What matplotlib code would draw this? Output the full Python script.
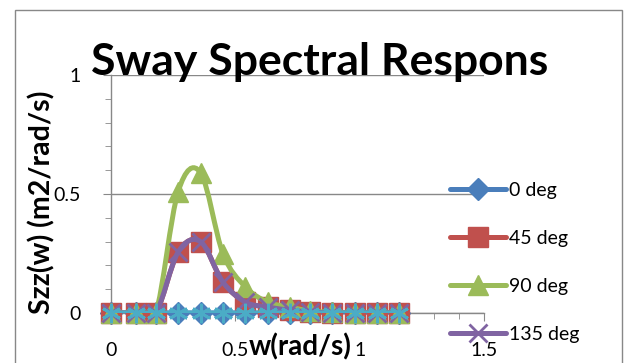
import matplotlib
matplotlib.use("Agg")
import matplotlib.pyplot as plt
import matplotlib.patches as patches
from matplotlib.path import Path
from matplotlib.ticker import MultipleLocator
import numpy as np

# data
w = [0.0, 0.1, 0.18, 0.27, 0.36, 0.45, 0.54, 0.63, 0.72, 0.80, 0.89, 0.98, 1.07, 1.16]
s_0 = [0, 0, 0, 0, 0, 0, 0, 0, 0, 0, 0, 0, 0, 0]
s_45 = [0, 0, 0, 0.256, 0.30, 0.13, 0.046, 0.025, 0.012, 0.005, 0, 0, 0, 0]
s_90 = [0, 0, 0, 0.51, 0.59, 0.25, 0.11, 0.046, 0.025, 0.008, 0.003, 0, 0, 0]
s_135 = [0, 0, 0, 0.256, 0.30, 0.13, 0.046, 0.025, 0.012, 0.005, 0, 0, 0, 0]
s_180 = [0, 0, 0, 0, 0, 0, 0, 0, 0, 0, 0, 0, 0, 0]
# the fifth legend entry falls below the picture's edge, so only four are listed
labels = ['0 deg', '45 deg', '90 deg', '135 deg']

FONT = 'Lato'
plt.rcParams['font.family'] = [FONT, 'DejaVu Sans']


def smooth_path(x, y):
    """Excel style smoothed line as a bezier path through the points"""
    pts = np.column_stack([x, y]).astype(float)
    n = len(pts)
    verts = [pts[0]]
    codes = [Path.MOVETO]
    for i in range(n - 1):
        p0 = pts[max(i - 1, 0)]
        p1 = pts[i]
        p2 = pts[i + 1]
        p3 = pts[min(i + 2, n - 1)]
        c1 = p1 + (p2 - p0) / 6.0
        c2 = p2 - (p3 - p1) / 6.0
        verts += [c1, c2, p2]
        codes += [Path.CURVE4] * 3
    return Path(verts, codes)


fig = plt.figure(figsize=(6.27, 3.63), dpi=100)
ax = fig.add_axes([111 / 627, 50 / 363, 373 / 627, 238 / 363])

series = [
    (s_0, '#4A7EBB', 'D', 11),
    (s_45, '#C0504D', 's', 14),
    (s_90, '#9BBB59', '^', 14),
    (s_135, '#8064A2', 'x', 13),
    (s_180, '#4BACC6', (6, 2, 0), 14),
]

handles = []
for i, (vals, col, mk, ms) in enumerate(series):
    z = 3 + i
    mew = 2 if (mk == 'x' or isinstance(mk, tuple)) else 1
    path = smooth_path(w, vals)
    ax.add_patch(patches.PathPatch(path, facecolor='none', edgecolor=col,
                                   lw=3.6, zorder=z, capstyle='round'))
    ax.plot(w, vals, linestyle='none', marker=mk, markersize=ms, color=col,
            markeredgecolor=col, markeredgewidth=mew,
            zorder=z + 0.5, clip_on=False)
    h, = ax.plot([], [], color=col, lw=3.6, marker=mk, markersize=ms,
                 markeredgecolor=col, solid_capstyle='round',
                 markeredgewidth=mew)
    handles.append(h)

ax.set_xlim(0, 1.5)
ax.set_ylim(0, 1)
ax.xaxis.set_minor_locator(MultipleLocator(0.1))
ax.yaxis.set_minor_locator(MultipleLocator(0.1))

for sp in ['top', 'right']:
    ax.spines[sp].set_visible(False)
for sp in ['left', 'bottom']:
    ax.spines[sp].set_color('#888888')
    ax.spines[sp].set_linewidth(1.0)
ax.grid(axis='y', which='major', color='#888888', lw=1.0)
ax.set_axisbelow(True)
ax.tick_params(which='both', direction='out', color='#888888', labelsize=14)
ax.tick_params(which='major', length=6)
ax.tick_params(which='minor', length=4)
ax.set_xticks([0, 0.5, 1, 1.5])
ax.set_xticklabels(['0', '0.5', '1', '1.5'])
ax.set_yticks([0, 0.5, 1])
ax.set_yticklabels(['0', '0.5', '1'])
ax.tick_params(axis='y', pad=16)
ax.tick_params(axis='x', pad=15)

ax.set_xlabel('w(rad/s)', fontsize=20, fontweight='bold', va='center')
ax.xaxis.set_label_coords(0.507, -0.143)
ax.set_ylabel('Szz(w) (m2/rad/s)', fontsize=20.5, fontweight='bold', va='center')
ax.yaxis.set_label_coords(-0.185, 0.466)

fig.text(320 / 627, 1 - 75 / 363, 'Sway Spectral Respons', fontsize=32,
         fontweight='bold', ha='center', va='baseline')

leg = fig.legend(handles[:4], labels, loc='upper left',
                 bbox_to_anchor=(440 / 627, 1 - 172 / 363),
                 frameon=False, fontsize=14, handlelength=2.9,
                 handletextpad=0.15, labelspacing=1.6, borderpad=0)

# outer chart border
fig.patches.append(patches.Rectangle((15 / 627, -0.2), 607 / 627, 0.2 + 1 - 10 / 363,
                                     transform=fig.transFigure, fill=False,
                                     edgecolor='#888888', lw=1.0))

fig.savefig('out.png', dpi=100)
